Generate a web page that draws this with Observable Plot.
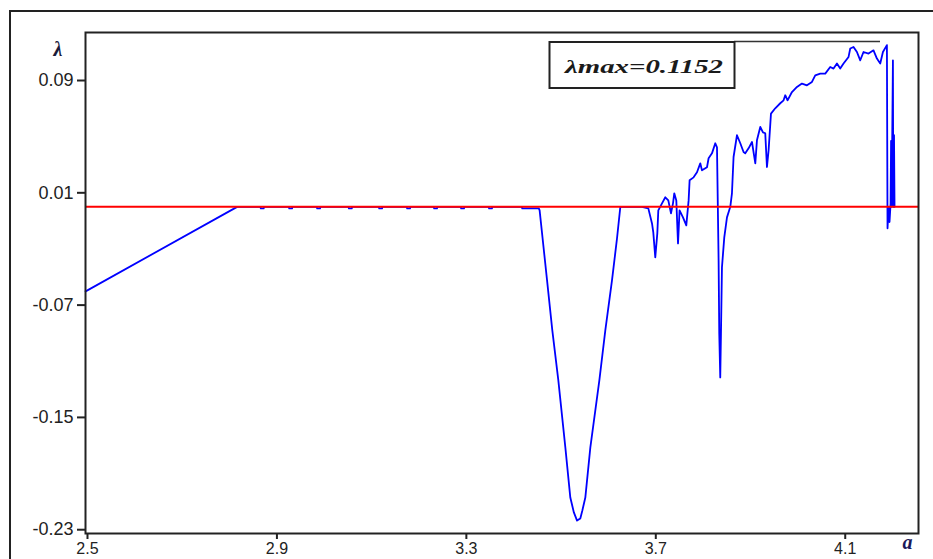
<!DOCTYPE html>
<html><head><meta charset="utf-8">
<script src="https://cdn.jsdelivr.net/npm/d3@7"></script>
<script src="https://cdn.jsdelivr.net/npm/@observablehq/plot@0.6"></script>
<style>
html,body{margin:0;padding:0;background:#fff;}
#wrap{position:relative;width:933px;height:559px;overflow:hidden;background:#fff;}
#outer{position:absolute;left:9px;top:10px;width:1000px;height:1000px;border:2px solid #222;box-sizing:border-box;}
#chart{position:absolute;left:0;top:0;}
</style></head><body>
<div id="wrap"><div id="outer"></div><div id="chart"></div></div>
<script>
// ---- data (a = parameter, lambda = Lyapunov exponent) ----
const rampA = [2.496, 2.816];
const rampL = [-0.0602, 0];

const plateauA = [2.865, 2.866, 2.872, 2.873, 2.925, 2.926, 2.932, 2.933, 2.984, 2.985, 2.991, 2.992,
  3.051, 3.052, 3.058, 3.059, 3.115, 3.116, 3.122, 3.123, 3.174, 3.175, 3.181, 3.182,
  3.231, 3.232, 3.238, 3.239, 3.288, 3.289, 3.295, 3.296, 3.347, 3.348, 3.354, 3.355,
  3.417, 3.418, 3.453];
const plateauL = [0, -0.0011, -0.0011, 0, 0, -0.0011, -0.0011, 0, 0, -0.0011, -0.0011, 0,
  0, -0.0011, -0.0011, 0, 0, -0.0011, -0.0011, 0, 0, -0.0011, -0.0011, 0,
  0, -0.0011, -0.0011, 0, 0, -0.0011, -0.0011, 0, 0, -0.0011, -0.0011, 0,
  0, -0.0011, -0.0011];

const dipA = [3.4547, 3.4704, 3.4815, 3.4942, 3.5090, 3.5195, 3.5270, 3.5337, 3.5406, 3.5449,
  3.5512, 3.5618, 3.5808, 3.5934, 3.6075, 3.6181, 3.6251];
const dipL = [-0.0025, -0.0524, -0.0880, -0.1236, -0.1714, -0.2071, -0.2177, -0.2235, -0.2220, -0.2163,
  -0.2071, -0.1714, -0.1236, -0.0880, -0.0524, -0.0225, 0];

const chaosA = [3.6709, 3.6842, 3.6920, 3.6947, 3.6989, 3.7032, 3.7053, 3.7131, 3.7201, 3.7264,
  3.7321, 3.7363, 3.7390, 3.7433, 3.7469, 3.7502, 3.7574, 3.7644, 3.7693, 3.7714,
  3.7798, 3.7870, 3.7939, 3.7975, 3.8081, 3.8115, 3.8186, 3.8256, 3.8292, 3.8326,
  3.8340, 3.8361, 3.8376, 3.8397, 3.8446, 3.8503, 3.8573, 3.8608, 3.8642, 3.8714,
  3.8784, 3.8853, 3.8889, 3.8959, 3.9031, 3.9101, 3.9136, 3.9206, 3.9263, 3.9311,
  3.9347, 3.9382, 3.9432, 3.9522, 3.9628, 3.9698, 3.9733, 3.9782, 3.9875, 3.9981,
  4.0086, 4.0192, 4.0297, 4.0367, 4.0472, 4.0578, 4.0683, 4.0753, 4.0825, 4.0894,
  4.0964, 4.1070, 4.1106, 4.1175, 4.1247, 4.1317, 4.1386, 4.1492, 4.1597, 4.1669,
  4.1739, 4.1796, 4.1880];
const chaosL = [0, -0.0011, -0.0118, -0.0182, -0.0360, -0.0189, -0.0025, 0.0025, 0.0068, 0.0046,
  -0.0046, 0.0025, 0.0096, 0.0046, -0.0260, -0.0025, -0.0075, -0.0132, 0.0046, 0.0189,
  0.0210, 0.0246, 0.0310, 0.0260, 0.0282, 0.0346, 0.0381, 0.0453, 0.0424, -0.0381,
  -0.0902, -0.1215, -0.0902, -0.0431, -0.0217, -0.0075, 0, 0.0096, 0.0355, 0.0510,
  0.0453, 0.0391, 0.0381, 0.0417, 0.0462, 0.0310, 0.0474, 0.0569, 0.0531, 0.0524,
  0.0284, 0.0403, 0.0664, 0.0702, 0.0738, 0.0759, 0.0795, 0.0759, 0.0818, 0.0854,
  0.0878, 0.0866, 0.0890, 0.0937, 0.0949, 0.0949, 0.0996, 0.0985, 0.1021, 0.0985,
  0.1021, 0.1068, 0.1128, 0.1139, 0.1103, 0.1044, 0.1103, 0.1092, 0.1115, 0.1056,
  0.1021, 0.1103, 0.1152];

const edgeA = [4.1893, 4.1915, 4.1935, 4.1958, 4.1968, 4.1979, 4.2007, 4.2014, 4.2030, 4.2041];
const edgeL = [-0.0153, 0, -0.0108, 0.0025, 0.0470, 0, 0.1044, 0, 0.0510, 0];

const xTicks = [2.5, 2.9, 3.3, 3.7, 4.1];
const xTickLabels = ["2.5", "2.9", "3.3", "3.7", "4.1"];
const yTicks = [0.09, 0.01, -0.07, -0.15, -0.23];
const yTickLabels = ["0.09", "0.01", "-0.07", "-0.15", "-0.23"];
const xName = "a";
const yName = "λ";
const maxLabel = "λmax=0.1152";

// ---- build table ----
const allA = [...rampA, ...plateauA, ...dipA, ...chaosA, ...edgeA];
const allL = [...rampL, ...plateauL, ...dipL, ...chaosL, ...edgeL];
const points = allA.map((a, i) => ({a, lambda: allL[i]}));

const chart = Plot.plot({
  width: 933, height: 559,
  marginLeft: 85, marginRight: 15, marginTop: 32, marginBottom: 26,
  style: {fontFamily: "'Liberation Sans', Arial, sans-serif", fontSize: "18px", color: "#222", background: "transparent", overflow: "visible"},
  x: {domain: [2.4958, 4.2547]},
  y: {domain: [-0.2327, 0.1242]},
  marks: [
    Plot.line(points, {x: "a", y: "lambda", stroke: "#0000ff", strokeWidth: 1.8}),
    Plot.ruleY([0], {stroke: "#ff0000", strokeWidth: 2}),
    Plot.frame({stroke: "#222", strokeWidth: 2}),
    Plot.axisY(yTicks, {tickSize: 8, tickPadding: 4, strokeWidth: 2, label: null,
      tickFormat: d => yTickLabels[yTicks.indexOf(d)]}),
    Plot.axisX(xTicks, {tickSize: 6, tickPadding: 3, strokeWidth: 2, label: null, fontSize: 16,
      tickFormat: d => xTickLabels[xTicks.indexOf(d)]}),
    Plot.text([yName], {text: d => d, frameAnchor: "top-left", dx: -32, dy: 9,
      fontFamily: "'Liberation Serif', 'Times New Roman', serif", fontWeight: "bold", fontStyle: "italic",
      fontSize: 20, fill: "#1a1a3a"}),
    Plot.text([xName], {text: d => d, frameAnchor: "bottom-right", dx: -6, dy: 15,
      fontFamily: "'Liberation Serif', 'Times New Roman', serif", fontWeight: "bold", fontStyle: "italic",
      fontSize: 20, fill: "#1a1a5a"})
  ]
});

// annotation box
const svg = d3.select(chart);
const g = svg.append("g").attr("text-anchor", "start");
g.append("line").attr("x1", 734).attr("x2", 880).attr("y1", 41.5).attr("y2", 41.5)
  .attr("stroke", "#333").attr("stroke-width", 1.5);
g.append("rect").attr("x", 549.5).attr("y", 42).attr("width", 185).attr("height", 46)
  .attr("fill", "#fff").attr("stroke", "#222").attr("stroke-width", 2);
g.append("text").attr("x", 565).attr("y", 72.5).attr("text-anchor", "start")
  .attr("textLength", 158).attr("lengthAdjust", "spacingAndGlyphs")
  .attr("font-family", "'Liberation Serif', 'Times New Roman', serif")
  .attr("font-weight", "bold").attr("font-style", "italic").attr("font-size", 19)
  .attr("fill", "#1a1a1a").text(maxLabel);

document.getElementById("chart").appendChild(chart);
</script>
</body></html>
